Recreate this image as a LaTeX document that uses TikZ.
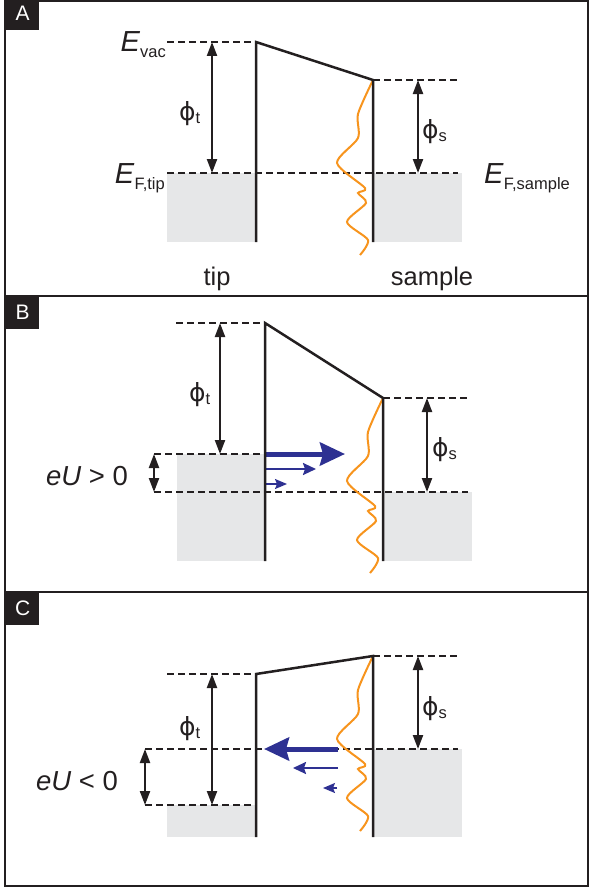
\documentclass[tikz,border=0pt]{standalone}
\usepackage{fontspec}
\setmainfont{Liberation Sans}
\newfontfamily\bdgreek{DejaVu Sans}
\usetikzlibrary{arrows.meta}
\definecolor{bdink}{HTML}{231F20}
\definecolor{bdgray}{HTML}{E6E7E8}
\definecolor{bdorange}{HTML}{F7941D}
\definecolor{bdblue}{HTML}{2E3192}
\newcommand{\bdsub}[3][6pt]{#2\raisebox{-#1}{\fontsize{16.5}{16.5}\selectfont #3}}
\newcommand{\bdphi}{{\bdgreek ϕ}}
\tikzset{
  bd frame/.style={draw=bdink, line width=2.4pt},
  bd tag/.style={fill=bdink, text=white, font=\fontsize{21}{21}\selectfont,
    inner sep=0pt, minimum width=33pt, minimum height=33pt},
  bd wall/.style={draw=bdink, line width=2.5pt},
  bd level/.style={draw=bdink, line width=2.2pt, dash pattern=on 7pt off 4pt},
  bd fill/.style={fill=bdgray},
  bd dos/.style={draw=bdorange, line width=2pt},
  bd gap/.style={{Triangle[length=14pt,width=10pt]}-{Triangle[length=14pt,width=10pt]},
    draw=bdink, line width=2.2pt},
  bd big/.style={-{Stealth[length=25pt,width=23pt,inset=3pt]}, draw=bdblue, line width=5pt},
  bd mid/.style={-{Stealth[length=13pt,width=12pt,inset=2pt]}, draw=bdblue, line width=2.2pt},
  bd small/.style={-{Stealth[length=12pt,width=10pt,inset=2pt]}, draw=bdblue, line width=1.5pt},
  bd label/.style={font=\fontsize{25.5}{27}\selectfont, text=bdink, inner sep=0pt},
  bd level label/.style={font=\fontsize{29}{30}\selectfont, text=bdink, inner sep=0pt},
  bd bias/.style={font=\fontsize{27.5}{29}\selectfont, text=bdink, inner sep=0pt},
  bd phi/.style={font=\fontsize{25}{27}\selectfont, text=bdink, inner sep=0pt},
  ldos/.pic={
    \draw[bd dos] plot[smooth, tension=0.45] coordinates {(0,0) (-15,34) (-15,58)
      (-36,83) (-8,108) (-15,113) (-7,123) (-26,142) (-5,160) (-13,175)};
  }
}

\begin{document}
\begin{tikzpicture}[x=1pt, y=-1pt]
  \useasboundingbox (0,0) rectangle (589,891);
  % frames
  \draw[bd frame] (5,1) rectangle (588,886);
  \draw[bd frame] (5,296) -- (588,296);
  \draw[bd frame] (5,592) -- (588,592);
  \node[bd tag, anchor=north west] (tagA) at (6,-3) {A};
  \node[bd tag, anchor=north west] (tagB) at (6,296) {B};
  \node[bd tag, anchor=north west] (tagC) at (6,592) {C};

  % panel A
  \fill[bd fill] (167,173) rectangle (256,242);
  \fill[bd fill] (373,173) rectangle (462,242);
  \draw[bd level] (167,42) -- (256,42);
  \draw[bd level] (167,173) -- (458,173);
  \draw[bd level] (373,80) -- (458,80);
  \pic at (373,80) {ldos};
  \draw[bd wall] (256,242) -- (256,42) -- (373,80) -- (373,242);
  \coordinate (A tv) at (212,42);
  \coordinate (A tf) at (212,173);
  \coordinate (A sv) at (418,80);
  \coordinate (A sf) at (418,173);
  \draw[bd gap] (A tv) -- (A tf);
  \draw[bd gap] (A sv) -- (A sf);
  \node[bd level label, anchor=base east] (Evac) at (166,52) {\bdsub{\textit{E}}{vac}};
  \node[bd level label, anchor=base east] (EFtip) at (165,183) {\bdsub{\textit{E}}{F,tip}};
  \node[bd level label, anchor=base west] (EFsam) at (484,183) {\bdsub{\textit{E}}{F,sample}};
  \node[bd phi, anchor=base west] (A phit) at (179,120) {\bdsub[3pt]{\bdphi}{t}};
  \node[bd phi, anchor=base west] (A phis) at (422,138) {\bdsub[3pt]{\bdphi}{s}};
  \node[bd label, anchor=base] (tip) at (217,285) {tip};
  \node[bd label, anchor=base] (sample) at (432,285) {sample};

  % panel B
  \fill[bd fill] (177,454) rectangle (265,561);
  \fill[bd fill] (383,492) rectangle (472,561);
  \draw[bd level] (176,323) -- (265,323);
  \draw[bd level] (154,454) -- (265,454);
  \draw[bd level] (154,492) -- (468,492);
  \draw[bd level] (383,398) -- (468,398);
  \pic at (383,398) {ldos};
  \coordinate (B big s) at (265,454);
  \coordinate (B big e) at (345,454);
  \coordinate (B mid s) at (265,469);
  \coordinate (B mid e) at (316,469);
  \coordinate (B sml s) at (265,484);
  \coordinate (B sml e) at (287,484);
  \draw[bd big] (B big s) -- (B big e);
  \draw[bd mid] (B mid s) -- (B mid e);
  \draw[bd small] (B sml s) -- (B sml e);
  \draw[bd wall] (265,561) -- (265,323) -- (383,398) -- (383,561);
  \coordinate (B tv) at (220,323);
  \coordinate (B tf) at (220,454);
  \coordinate (B ua) at (154,454);
  \coordinate (B ub) at (154,492);
  \coordinate (B sv) at (427,398);
  \coordinate (B sf) at (427,492);
  \draw[bd gap] (B tv) -- (B tf);
  \draw[bd gap] (B ua) -- (B ub);
  \draw[bd gap] (B sv) -- (B sf);
  \node[bd phi, anchor=base west] (B phit) at (189,401) {\bdsub[3pt]{\bdphi}{t}};
  \node[bd phi, anchor=base west] (B phis) at (432,456) {\bdsub[3pt]{\bdphi}{s}};
  \node[bd bias, anchor=base] (B eU) at (87,485) {\textit{eU} > 0};

  % panel C
  \fill[bd fill] (167,805) rectangle (256,837);
  \fill[bd fill] (373,749) rectangle (462,837);
  \draw[bd level] (167,674) -- (256,674);
  \draw[bd level] (145,749) -- (458,749);
  \draw[bd level] (145,805) -- (256,805);
  \draw[bd level] (373,656) -- (458,656);
  \pic at (373,656) {ldos};
  \coordinate (C big s) at (338,749);
  \coordinate (C big e) at (264,749);
  \coordinate (C mid s) at (338,768);
  \coordinate (C mid e) at (293,768);
  \coordinate (C sml s) at (337,788);
  \coordinate (C sml e) at (323,788);
  \draw[bd big] (C big s) -- (C big e);
  \draw[bd mid] (C mid s) -- (C mid e);
  \draw[bd small] (C sml s) -- (C sml e);
  \draw[bd wall] (256,837) -- (256,674) -- (373,656) -- (373,837);
  \coordinate (C tv) at (212,674);
  \coordinate (C tf) at (212,805);
  \coordinate (C ua) at (145,749);
  \coordinate (C ub) at (145,805);
  \coordinate (C sv) at (418,656);
  \coordinate (C sf) at (418,749);
  \draw[bd gap] (C tv) -- (C tf);
  \draw[bd gap] (C ua) -- (C ub);
  \draw[bd gap] (C sv) -- (C sf);
  \node[bd phi, anchor=base west] (C phit) at (179,735) {\bdsub[3pt]{\bdphi}{t}};
  \node[bd phi, anchor=base west] (C phis) at (422,715) {\bdsub[3pt]{\bdphi}{s}};
  \node[bd bias, anchor=base] (C eU) at (77,790) {\textit{eU} < 0};
\end{tikzpicture}
\end{document}
